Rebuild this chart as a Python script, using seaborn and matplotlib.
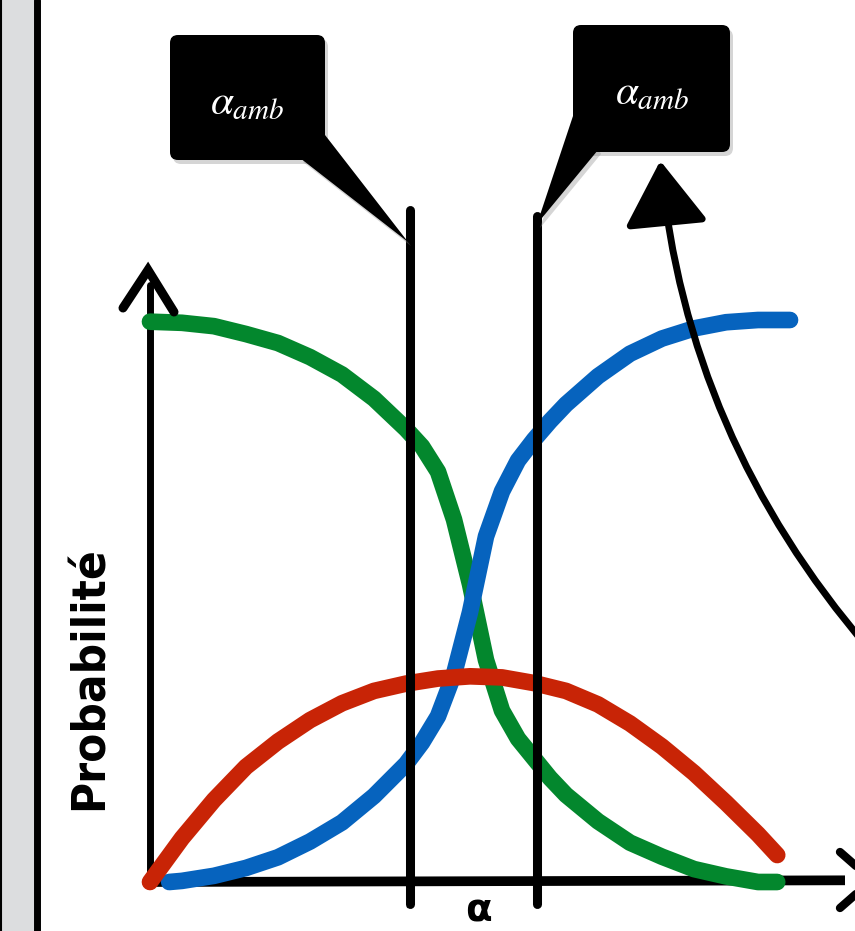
import numpy as np
import pandas as pd
import matplotlib
matplotlib.use("Agg")
import matplotlib.pyplot as plt
import seaborn as sns
from matplotlib.patches import FancyBboxPatch, Polygon, Rectangle, FancyArrowPatch

# DONNEES
alpha_vert = [0.0, 0.05, 0.1, 0.15, 0.2, 0.25, 0.3, 0.35, 0.4, 0.425, 0.45, 0.475, 0.5, 0.525,
              0.55, 0.575, 0.6, 0.625, 0.65, 0.7, 0.75, 0.8, 0.85, 0.9, 0.95, 0.98]
p_vert = [0.997, 0.995, 0.989, 0.975, 0.959, 0.934, 0.903, 0.86, 0.806, 0.775, 0.73, 0.645, 0.53, 0.395,
          0.305, 0.255, 0.22, 0.185, 0.155, 0.108, 0.07, 0.045, 0.023, 0.01, 0.0, 0.0]

alpha_bleu = [0.03, 0.05, 0.1, 0.15, 0.2, 0.25, 0.3, 0.35, 0.4, 0.425, 0.45, 0.475, 0.5, 0.525,
              0.55, 0.575, 0.6, 0.625, 0.65, 0.7, 0.75, 0.8, 0.85, 0.9, 0.95, 1.0]
p_bleu = [0.0, 0.002, 0.011, 0.025, 0.044, 0.072, 0.106, 0.153, 0.21, 0.248, 0.295, 0.37, 0.48, 0.615,
          0.695, 0.75, 0.787, 0.82, 0.85, 0.90, 0.94, 0.967, 0.985, 0.996, 1.0, 1.0]

alpha_rouge = [0.0, 0.05, 0.1, 0.15, 0.2, 0.25, 0.3, 0.35, 0.4, 0.45, 0.5, 0.55, 0.6,
               0.65, 0.7, 0.75, 0.8, 0.85, 0.9, 0.95, 0.98]
p_rouge = [0.0, 0.078, 0.146, 0.205, 0.25, 0.288, 0.318, 0.34, 0.353, 0.362, 0.366, 0.364, 0.354,
           0.34, 0.316, 0.282, 0.241, 0.194, 0.141, 0.085, 0.048]

alpha_amb = [0.406, 0.605]
label_amb = r"$\alpha_{amb}$"

df = pd.concat([
    pd.DataFrame({"alpha": alpha_vert, "p": p_vert, "classe": "vert"}),
    pd.DataFrame({"alpha": alpha_bleu, "p": p_bleu, "classe": "bleu"}),
    pd.DataFrame({"alpha": alpha_rouge, "p": p_rouge, "classe": "rouge"}),
], ignore_index=True)
couleurs = {"vert": "#03872d", "bleu": "#0663be", "rouge": "#c82406"}

sns.set_style("white")
plt.rcParams["mathtext.fontset"] = "stix"

W, H = 855, 931
fig = plt.figure(figsize=(W / 100, H / 100), dpi=100)

# axe des donnees: origine en (150, 882) px, alpha=1 -> 640 px, p=1 -> 562 px
ax = fig.add_axes([0, 0, 1, 1])
ax.set_xlim(-150 / 640, (W - 150) / 640)
ax.set_ylim(-(H - 882) / 562, 882 / 562)
ax.axis("off")

# axe de decor en pixels
deco = fig.add_axes([0, 0, 1, 1], zorder=3)
deco.set_xlim(0, W)
deco.set_ylim(H, 0)
deco.axis("off")
deco.patch.set_alpha(0)

# bande grise a gauche
deco.add_patch(Rectangle((0, 0), 34, H, color="#dcdddf", zorder=1))
deco.plot([37, 37], [0, H], color="black", lw=5, zorder=2)
deco.plot([1, 1], [0, H], color="black", lw=1.5, zorder=2)

# axes dessines a la main
ax.plot([0, 0], [0, (882 - 285) / 562], color="black", lw=5, solid_capstyle="round", zorder=2)
ax.plot([0, (845 - 150) / 640], [0, 0.003], color="black", lw=7, solid_capstyle="butt", zorder=2)
deco.plot([123, 148, 174], [308, 270, 312], color="black", lw=6.5, solid_capstyle="round",
          solid_joinstyle="miter", zorder=2)
deco.plot([840, 872, 840], [852, 880, 908], color="black", lw=6, solid_capstyle="round", zorder=2)

# courbes
sns.lineplot(data=df, x="alpha", y="p", hue="classe", palette=couleurs, lw=12, sort=False,
             legend=False, ax=ax, zorder=3, solid_capstyle="round", solid_joinstyle="round")

# lignes verticales alpha_amb
for a, haut in zip(alpha_amb, [1.195, 1.185]):
    ax.plot([a, a], [-0.04, haut], color="black", lw=6.5, zorder=4)
    ax.plot([a - 0.004, a - 0.004], [-0.045, haut - 0.02], color="black", lw=1, alpha=0.7, zorder=4)

# bulles
def bulle(x0, y0, x1, y1, queue, tx, ty):
    for dx, dy, c, a in [(3, 4, "#888888", 0.35), (0, 0, "black", 1)]:
        deco.add_patch(FancyBboxPatch((x0 + dx, y0 + dy), x1 - x0, y1 - y0,
                                      boxstyle="round,pad=0,rounding_size=8",
                                      fc=c, ec="none", alpha=a, zorder=5))
        deco.add_patch(Polygon([(qx + dx, qy + dy) for qx, qy in queue], closed=True,
                               fc=c, ec="none", alpha=a, zorder=5))
    deco.text(tx, ty, label_amb, color="white", fontsize=30, ha="center", va="center", zorder=6)

bulle(170, 35, 325, 160, [(300, 158), (325, 135), (408, 242)], 247, 102)
bulle(573, 25, 730, 152, [(575, 110), (598, 150), (537, 224)], 652, 92)

# fleche courbe
fleche = FancyArrowPatch((870, 650), (660, 158), connectionstyle="arc3,rad=-0.16",
                         arrowstyle="-|>,head_length=40,head_width=26",
                         color="black", lw=5, zorder=4)
deco.add_artist(fleche)

# titres des axes
deco.text(90, 678, "Probabilité", rotation=90, fontsize=34, fontweight="bold", color="black",
          fontstretch="condensed", ha="center", va="center", zorder=6)
deco.text(478, 910, "α", fontsize=28, fontweight="bold", color="black",
          ha="center", va="center", zorder=6)

fig.savefig("out.png", dpi=100)
